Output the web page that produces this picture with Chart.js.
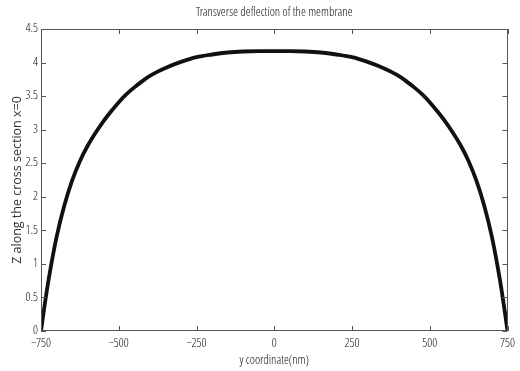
<!DOCTYPE html>
<html>
<head>
<meta charset="utf-8">
<script src="https://cdn.jsdelivr.net/npm/chart.js@4/dist/chart.umd.min.js"></script>
<style>
  html, body { margin: 0; padding: 0; background: #ffffff; }
  #wrap { width: 520px; height: 371px; }
</style>
</head>
<body>
<div id="wrap"><canvas id="c" width="520" height="371"></canvas></div>
<script>
const titleText = "Transverse deflection of the membrane";
const xTitle = "y coordinate(nm)";
const yTitle = "Z along the cross section x=0";

const yCoord = [-750, -740, -725, -700, -675, -650, -625, -600, -575, -550, -525, -500,
  -475, -450, -425, -400, -375, -350, -300, -250, -200, -150, -100, -50, 0,
  50, 100, 150, 200, 250, 300, 350, 375, 400, 425, 450, 475,
  500, 525, 550, 575, 600, 625, 650, 675, 700, 725, 740, 750];
const zDeflection = [0, 0.33, 0.78, 1.40, 1.87, 2.24, 2.53, 2.76, 2.95, 3.12, 3.27, 3.41,
  3.53, 3.63, 3.72, 3.80, 3.865, 3.92, 4.01, 4.08, 4.12, 4.15, 4.165, 4.17, 4.17,
  4.17, 4.165, 4.15, 4.12, 4.08, 4.01, 3.92, 3.865, 3.80, 3.72, 3.63, 3.53,
  3.41, 3.27, 3.12, 2.95, 2.76, 2.53, 2.24, 1.87, 1.40, 0.78, 0.33, 0];

const xTicks = [-750, -500, -250, 0, 250, 500, 750];
const yTicks = [0, 0.5, 1, 1.5, 2, 2.5, 3, 3.5, 4, 4.5];

const narrow = "'Open Sans Condensed Light', 'Roboto Condensed', sans-serif";
const textColor = "#111111";
const frameColor = "#555555";

const points = yCoord.map((x, i) => ({ x: x, y: zDeflection[i] }));

const frameTicks = {
  id: 'frameTicks',
  afterDatasetsDraw(chart) {
    const { ctx, chartArea: a, scales: { x, y } } = chart;
    ctx.save();
    ctx.strokeStyle = frameColor;
    ctx.lineWidth = 1;
    ctx.beginPath();
    ctx.rect(Math.round(a.left) + 0.5, Math.round(a.top) + 0.5,
             Math.round(a.right - a.left) - 1, Math.round(a.bottom - a.top) - 1);
    ctx.stroke();
    const L = 5;
    ctx.beginPath();
    x.ticks.forEach(t => {
      const px = Math.round(x.getPixelForValue(t.value)) + 0.5;
      ctx.moveTo(px, a.bottom); ctx.lineTo(px, a.bottom - L);
      ctx.moveTo(px, a.top); ctx.lineTo(px, a.top + L);
    });
    y.ticks.forEach(t => {
      const py = Math.round(y.getPixelForValue(t.value)) + 0.5;
      ctx.moveTo(a.left, py); ctx.lineTo(a.left + L, py);
      ctx.moveTo(a.right, py); ctx.lineTo(a.right - L, py);
    });
    ctx.stroke();
    ctx.restore();
  }
};

new Chart(document.getElementById('c'), {
  type: 'line',
  data: {
    datasets: [{
      xAxisID: 'x',
      data: points,
      borderColor: '#111111',
      borderWidth: 3.8,
      pointRadius: 0,
      fill: false,
      cubicInterpolationMode: 'monotone'
    }]
  },
  options: {
    responsive: false,
    animation: false,
    maintainAspectRatio: false,
    layout: { padding: { left: 0, right: 11, top: 0, bottom: 0 } },
    plugins: {
      legend: { display: false },
      tooltip: { enabled: false },
      title: { display: false }
    },
    scales: {
      x: {
        type: 'linear',
        position: 'bottom',
        min: -750, max: 750,
        afterBuildTicks(scale) { scale.ticks = xTicks.map(v => ({ value: v })); },
        afterFit(scale) { scale.height = 40; },
        grid: { display: true, drawOnChartArea: false, drawTicks: false },
        border: { display: false },
        ticks: {
          color: textColor,
          font: { family: narrow, size: 12.5 },
          padding: 5,
          maxRotation: 0,
          autoSkip: false,
          callback: v => String(v).replace('-', '\u2212')
        },
        title: {
          display: true,
          text: xTitle,
          color: textColor,
          font: { family: narrow, size: 12.5 },
          padding: { top: 0, bottom: 2.5 }
        }
      },
      top: {
        type: 'linear',
        position: 'top',
        min: -750, max: 750,
        afterFit(scale) { scale.height = 29; },
        grid: { display: false, drawTicks: false },
        border: { display: false },
        ticks: { display: false },
        title: {
          display: true,
          text: titleText,
          color: textColor,
          font: { family: narrow, size: 12.5 },
          padding: { top: 5.5, bottom: 0 }
        }
      },
      y: {
        type: 'linear',
        min: 0, max: 4.5,
        afterBuildTicks(scale) { scale.ticks = yTicks.map(v => ({ value: v })); },
        afterFit(scale) { scale.width = 41; },
        grid: { display: true, drawOnChartArea: false, drawTicks: false },
        border: { display: false },
        ticks: {
          color: textColor,
          font: { family: narrow, size: 12.5 },
          padding: 3,
          autoSkip: false,
          callback: v => String(v)
        },
        title: {
          display: true,
          text: yTitle,
          color: '#333333',
          font: { family: "'Open Sans', 'Liberation Sans', sans-serif", size: 12.5 },
          padding: { top: 10, bottom: 0 }
        }
      }
    }
  },
  plugins: [frameTicks]
});
</script>
</body>
</html>
